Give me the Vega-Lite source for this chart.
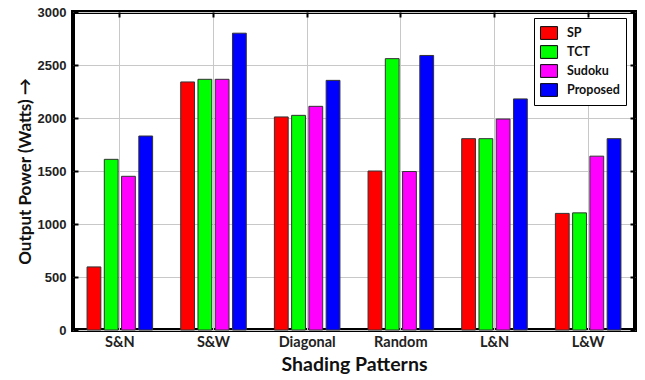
{
  "$schema": "https://vega.github.io/schema/vega-lite/v6.json",
  "width": 562,
  "height": 318,
  "autosize": "none",
  "padding": {"left": 73, "top": 12, "right": 10, "bottom": 50},
  "background": "white",
  "config": {
    "view": {"stroke": "black", "strokeWidth": 4},
    "axis": {"domain": false, "gridColor": "#c8c8c8", "gridWidth": 1, "gridOpacity": 1}
  },
  "data": {
    "values": [
      {"pattern": "S&N", "method": "SP", "power": 595},
      {"pattern": "S&N", "method": "TCT", "power": 1610},
      {"pattern": "S&N", "method": "Sudoku", "power": 1450},
      {"pattern": "S&N", "method": "Proposed", "power": 1830},
      {"pattern": "S&W", "method": "SP", "power": 2340},
      {"pattern": "S&W", "method": "TCT", "power": 2365},
      {"pattern": "S&W", "method": "Sudoku", "power": 2365},
      {"pattern": "S&W", "method": "Proposed", "power": 2800},
      {"pattern": "Diagonal", "method": "SP", "power": 2010},
      {"pattern": "Diagonal", "method": "TCT", "power": 2025},
      {"pattern": "Diagonal", "method": "Sudoku", "power": 2110},
      {"pattern": "Diagonal", "method": "Proposed", "power": 2355},
      {"pattern": "Random", "method": "SP", "power": 1500},
      {"pattern": "Random", "method": "TCT", "power": 2560},
      {"pattern": "Random", "method": "Sudoku", "power": 1495},
      {"pattern": "Random", "method": "Proposed", "power": 2590},
      {"pattern": "L&N", "method": "SP", "power": 1805},
      {"pattern": "L&N", "method": "TCT", "power": 1805},
      {"pattern": "L&N", "method": "Sudoku", "power": 1990},
      {"pattern": "L&N", "method": "Proposed", "power": 2180},
      {"pattern": "L&W", "method": "SP", "power": 1100},
      {"pattern": "L&W", "method": "TCT", "power": 1105},
      {"pattern": "L&W", "method": "Sudoku", "power": 1640},
      {"pattern": "L&W", "method": "Proposed", "power": 1805}
    ]
  },
  "resolve": {"axis": {"x": "independent", "y": "independent"}},
  "layer": [
    {
      "mark": {"type": "bar", "stroke": "#333333", "strokeWidth": 1},
      "encoding": {
        "x": {
          "field": "pattern", "type": "nominal",
          "sort": ["S&N", "S&W", "Diagonal", "Random", "L&N", "L&W"],
          "scale": {"paddingInner": 0.3, "paddingOuter": 0.15},
          "axis": {
            "title": "Shading Patterns", "titleFont": "Lato", "titleFontSize": 19.5, "titleFontWeight": "bold", "titleColor": "#111111", "titlePadding": 7,
            "labelAngle": 0, "labelFont": "Lato", "labelFontSize": 14.5, "labelFontWeight": "bold", "labelColor": "#222222", "labelPadding": 5,
            "ticks": false, "grid": true
          }
        },
        "xOffset": {
          "field": "method", "type": "nominal",
          "sort": ["SP", "TCT", "Sudoku", "Proposed"],
          "scale": {"paddingInner": 0.2}
        },
        "y": {
          "field": "power", "type": "quantitative",
          "scale": {"domain": [0, 3000], "nice": false},
          "axis": {
            "values": [0, 500, 1000, 1500, 2000, 2500, 3000], "format": "d",
            "title": "Output Power (Watts) →", "titleFont": "Lato", "titleFontSize": 17, "titleFontWeight": "bold", "titleColor": "#111111", "titlePadding": 3,
            "labelFont": "Liberation Sans", "labelFontSize": 13, "labelFontWeight": "bold", "labelColor": "#222222",
            "tickSize": -5, "tickColor": "black", "tickWidth": 2, "labelPadding": 12, "grid": true
          }
        },
        "color": {
          "field": "method", "type": "nominal",
          "sort": ["SP", "TCT", "Sudoku", "Proposed"],
          "scale": {"domain": ["SP", "TCT", "Sudoku", "Proposed"], "range": ["#ff0000", "#00ff00", "#ff00ff", "#0000ff"]},
          "legend": {
            "title": null, "orient": "none", "legendX": 461, "legendY": 6,
            "strokeColor": "black", "fillColor": "white", "padding": 6,
            "symbolType": "M-1,-0.75H1V0.75H-1Z", "symbolSize": 289, "symbolStrokeColor": "black", "symbolStrokeWidth": 1,
            "labelFont": "Lato", "labelFontSize": 12.5, "labelFontWeight": "bold", "labelColor": "#111111",
            "rowPadding": 1, "labelOffset": 9
          }
        }
      }
    },
    {
      "mark": {"type": "bar", "opacity": 0},
      "encoding": {
        "x": {
          "field": "pattern", "type": "nominal",
          "sort": ["S&N", "S&W", "Diagonal", "Random", "L&N", "L&W"],
          "axis": {"orient": "top", "title": null, "labels": false, "grid": false, "tickSize": -5, "tickColor": "black", "tickWidth": 2}
        },
        "y": {
          "field": "power", "type": "quantitative",
          "axis": {"orient": "right", "title": null, "labels": false, "grid": false, "values": [0, 500, 1000, 1500, 2000, 2500, 3000], "tickSize": -5, "tickColor": "black", "tickWidth": 2}
        }
      }
    }
  ]
}
